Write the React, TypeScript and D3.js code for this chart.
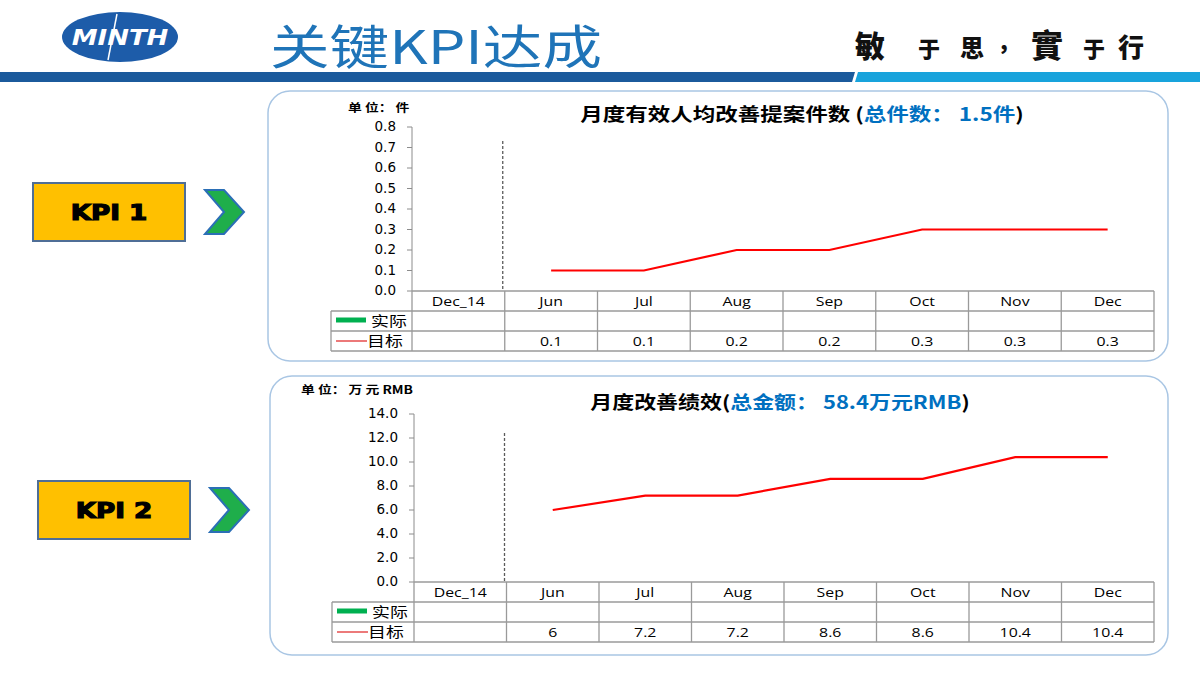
import React from "react";
import * as d3 from "d3";

const months = ["Dec_14", "Jun", "Jul", "Aug", "Sep", "Oct", "Nov", "Dec"];
const kpi1Target: (number | null)[] = [null, 0.1, 0.1, 0.2, 0.2, 0.3, 0.3, 0.3];
const kpi1Actual: (number | null)[] = [null, null, null, null, null, null, null, null];
const kpi2Target: (number | null)[] = [null, 6, 7.2, 7.2, 8.6, 8.6, 10.4, 10.4];
const kpi2Actual: (number | null)[] = [null, null, null, null, null, null, null, null];
const legendLabels = ["实际", "目标"];
const calligraphy = ["敏", "于", "思", "，", "實", "于", "行"];

const BLUE_TITLE = "#0070c0";
const TICK_FONT = "DejaVu Sans, Verdana, sans-serif";
const TABLE_FONT = "'Open Sans', 'Noto Sans', sans-serif";
const CJK = "'Noto Sans CJK SC', sans-serif";

type STProps = {
  x: number;
  y: number;
  sx?: number;
  anchor?: "start" | "middle" | "end";
  dy?: string;
  size: number;
  family: string;
  weight?: number;
  fill?: string;
  stroke?: string;
  strokeWidth?: number;
  children: React.ReactNode;
};

function ST(p: STProps) {
  return (
    <text
      transform={`translate(${p.x},${p.y}) scale(${p.sx ?? 1},1)`}
      textAnchor={p.anchor ?? "start"}
      dy={p.dy}
      fontSize={p.size}
      fontFamily={p.family}
      fontWeight={p.weight ?? 400}
      fill={p.fill ?? "#000"}
      stroke={p.stroke}
      strokeWidth={p.strokeWidth}
    >
      {p.children}
    </text>
  );
}

type ChartProps = {
  panel: { x: number; y: number; w: number; h: number };
  axisX: number;
  yTop: number;
  yBottom: number;
  legendLeft: number;
  right: number;
  rowH: number;
  max: number;
  tickCount: number;
  target: (number | null)[];
  actual: (number | null)[];
  dashTop: number;
  unit: { x: number; y: number; text: string; sx: number };
  title: { x: number; y: number; black: string; blue: string; end: string; sx: number };
};

function Chart(p: ChartProps) {
  const x = d3.scaleBand<string>().domain(months).range([p.axisX, p.right]);
  const y = d3.scaleLinear().domain([0, p.max]).range([p.yBottom, p.yTop]);
  const ticks = y.ticks(p.tickCount);
  const fmt = d3.format(".1f");
  const pts = months
    .map((m, i) => ({ m, v: p.target[i] }))
    .filter((d) => d.v != null) as { m: string; v: number }[];
  const line = d3
    .line<{ m: string; v: number }>()
    .x((d) => (x(d.m) as number) + x.bandwidth() / 2)
    .y((d) => y(d.v));
  const rows = [p.yBottom, p.yBottom + p.rowH, p.yBottom + 2 * p.rowH, p.yBottom + 3 * p.rowH];
  const dashX = (x(months[1]) as number) - 2;
  const gridC = "#9a9a9a";
  const cx = (m: string) => (x(m) as number) + x.bandwidth() / 2;
  return (
    <g>
      <rect
        x={p.panel.x}
        y={p.panel.y}
        width={p.panel.w}
        height={p.panel.h}
        rx={22}
        ry={22}
        fill="#ffffff"
        stroke="#a9c6e4"
        strokeWidth={1.5}
      />
      <ST x={p.unit.x} y={p.unit.y} sx={p.unit.sx} size={11.5} family={CJK} weight={700}>
        {p.unit.text}
      </ST>
      <ST x={p.title.x} y={p.title.y} sx={p.title.sx} anchor="middle" size={18} family={CJK} weight={700}>
        {p.title.black}
        <tspan fill={BLUE_TITLE}>{p.title.blue}</tspan>
        {p.title.end}
      </ST>
      {/* y axis */}
      <line x1={p.axisX} x2={p.axisX} y1={p.yTop} y2={p.yBottom} stroke="#8c8c8c" strokeWidth={1} />
      {ticks.map((t) => (
        <g key={t}>
          <line x1={p.axisX - 5} x2={p.axisX} y1={y(t)} y2={y(t)} stroke="#8c8c8c" />
          <ST x={p.axisX - 16} y={y(t)} dy="0.32em" anchor="end" size={13.5} family={TICK_FONT}>
            {fmt(t)}
          </ST>
        </g>
      ))}
      {/* dashed separator */}
      <line
        x1={dashX}
        x2={dashX}
        y1={p.dashTop}
        y2={p.yBottom}
        stroke="#5a5a5a"
        strokeWidth={1.3}
        strokeDasharray="3,2"
      />
      {/* target line */}
      <path d={line(pts) || ""} fill="none" stroke="#ff0000" strokeWidth={2.2} />
      {/* table */}
      <g stroke={gridC} strokeWidth={1.3} fill="none">
        <line x1={p.axisX} x2={p.right} y1={rows[0]} y2={rows[0]} />
        <line x1={p.legendLeft} x2={p.right} y1={rows[1]} y2={rows[1]} />
        <line x1={p.legendLeft} x2={p.right} y1={rows[2]} y2={rows[2]} />
        <line x1={p.legendLeft} x2={p.right} y1={rows[3]} y2={rows[3]} />
        <line x1={p.legendLeft} x2={p.legendLeft} y1={rows[1]} y2={rows[3]} />
        {months.map((m) => (
          <line key={m} x1={x(m) as number} x2={x(m) as number} y1={rows[0]} y2={rows[3]} />
        ))}
        <line x1={p.right} x2={p.right} y1={rows[0]} y2={rows[3]} />
      </g>
      {months.map((m, i) => (
        <g key={"c" + m}>
          <ST x={cx(m)} y={(rows[0] + rows[1]) / 2} dy="0.36em" anchor="middle" sx={1.22} size={13} family={TABLE_FONT}>
            {m}
          </ST>
          {p.actual[i] != null && (
            <ST x={cx(m)} y={(rows[1] + rows[2]) / 2} dy="0.36em" anchor="middle" sx={1.22} size={13} family={TABLE_FONT}>
              {String(p.actual[i])}
            </ST>
          )}
          {p.target[i] != null && (
            <ST x={cx(m)} y={(rows[2] + rows[3]) / 2} dy="0.36em" anchor="middle" sx={1.22} size={13} family={TABLE_FONT}>
              {String(p.target[i])}
            </ST>
          )}
        </g>
      ))}
      {/* legend */}
      <line
        x1={p.legendLeft + 5}
        x2={p.legendLeft + 35}
        y1={(rows[1] + rows[2]) / 2 - 1}
        y2={(rows[1] + rows[2]) / 2 - 1}
        stroke="#00b050"
        strokeWidth={5}
      />
      <ST x={p.legendLeft + 40} y={(rows[1] + rows[2]) / 2} dy="0.36em" sx={1.28} size={14} family={CJK}>
        {legendLabels[0]}
      </ST>
      <line
        x1={p.legendLeft + 5}
        x2={p.legendLeft + 36}
        y1={(rows[2] + rows[3]) / 2}
        y2={(rows[2] + rows[3]) / 2}
        stroke="#e02020"
        strokeWidth={1.2}
      />
      <ST x={p.legendLeft + 36} y={(rows[2] + rows[3]) / 2} dy="0.36em" sx={1.28} size={14} family={CJK}>
        {legendLabels[1]}
      </ST>
    </g>
  );
}

function KpiBox({ x, y, label }: { x: number; y: number; label: string }) {
  const cx = x + 172;
  return (
    <g>
      <rect x={x} y={y} width={152} height={58} fill="#ffc000" stroke="#4f6e96" strokeWidth={2} />
      <ST
        x={x + 76}
        y={y + 29}
        dy="0.36em"
        anchor="middle"
        sx={1.25}
        size={21}
        family="DejaVu Sans, sans-serif"
        weight={700}
        stroke="#000"
        strokeWidth={1.2}
      >
        {label}
      </ST>
      <polygon
        points={`${cx},${y + 7} ${cx + 19},${y + 7} ${cx + 39},${y + 29} ${cx + 19},${y + 51} ${cx},${y + 51} ${cx + 19},${y + 29}`}
        fill="#1fae4b"
        stroke="#2b6fb6"
        strokeWidth={2}
        strokeLinejoin="miter"
      />
    </g>
  );
}

export default function App() {
  const callX = [870, 929, 972, 1004, 1047, 1094, 1131];
  const callSize = [30, 22, 24, 22, 32, 22, 26];
  return (
    <svg
      width={1200}
      height={680}
      style={{ position: "absolute", left: 0, top: 0, background: "#fff" }}
    >
      <rect x={0} y={0} width={1200} height={680} fill="#ffffff" />
      {/* logo */}
      <ellipse cx={120} cy={37} rx={58} ry={25} fill="#1d5ca9" />
      <ST
        x={120}
        y={45}
        anchor="middle"
        sx={1.18}
        size={22}
        family="DejaVu Sans, sans-serif"
        weight={700}
        fill="#fff"
      >
        <tspan fontStyle="italic">MINTH</tspan>
      </ST>
      <line x1={108} y1={60} x2={117} y2={14} stroke="#fff" strokeWidth={1.5} />
      {/* title */}
      <text
        x={270}
        y={64}
        fontFamily={CJK}
        fontSize={47}
        fill="#1f74b8"
        textLength={332}
        lengthAdjust="spacingAndGlyphs"
      >
        关键KPI达成
      </text>
      {/* calligraphy motto */}
      {calligraphy.map((c, i) => (
        <text
          key={i}
          x={callX[i]}
          y={57}
          textAnchor="middle"
          fontFamily="'Noto Sans CJK TC', sans-serif"
          fontWeight={900}
          fontSize={callSize[i]}
          fill="#111"
        >
          {c}
        </text>
      ))}
      {/* header bar */}
      <polygon points="0,72 855,72 852,82 0,82" fill="#1b5a9c" />
      <polygon points="858,72 1200,72 1200,82 855,82" fill="#18a3dc" />

      <KpiBox x={33} y={183} label="KPI 1" />
      <KpiBox x={38} y={481} label="KPI 2" />

      <Chart
        panel={{ x: 268, y: 91, w: 900, h: 270 }}
        axisX={412}
        yTop={127}
        yBottom={291}
        legendLeft={331}
        right={1154}
        rowH={20}
        max={0.8}
        tickCount={8}
        target={kpi1Target}
        actual={kpi1Actual}
        dashTop={141}
        unit={{ x: 348, y: 112, text: "单 位： 件", sx: 1.2 }}
        title={{ x: 802, y: 121, black: "月度有效人均改善提案件数 (", blue: "总件数： 1.5件", end: ")", sx: 1.25 }}
      />
      <Chart
        panel={{ x: 270, y: 376, w: 898, h: 279 }}
        axisX={414}
        yTop={414}
        yBottom={582}
        legendLeft={332}
        right={1154}
        rowH={20}
        max={14}
        tickCount={7}
        target={kpi2Target}
        actual={kpi2Actual}
        dashTop={433}
        unit={{ x: 301, y: 394, text: "单 位： 万 元 RMB", sx: 1.2 }}
        title={{ x: 780, y: 409, black: "月度改善绩效(", blue: "总金额： 58.4万元RMB", end: ")", sx: 1.22 }}
      />
    </svg>
  );
}
